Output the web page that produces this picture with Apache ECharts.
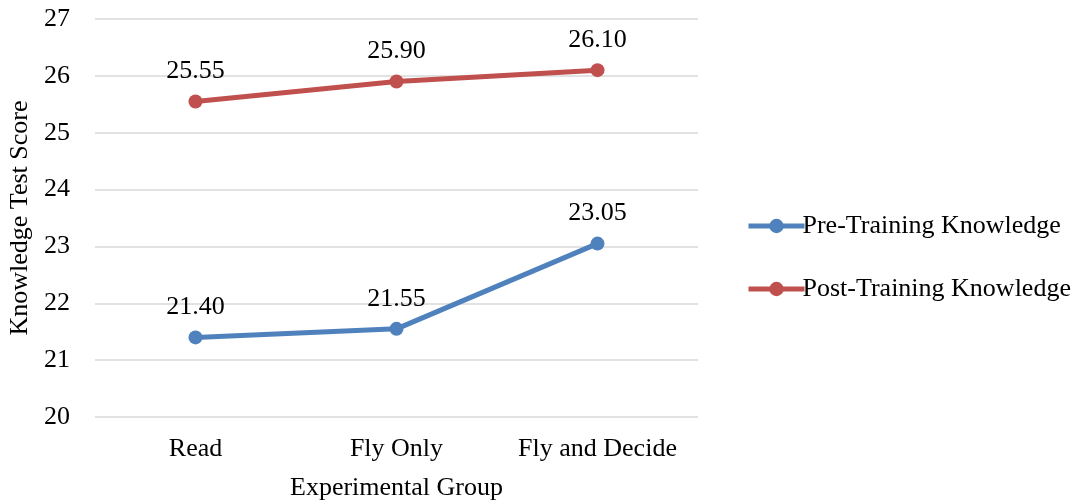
<!DOCTYPE html>
<html>
<head>
<meta charset="utf-8">
<script src="https://cdn.jsdelivr.net/npm/echarts@6/dist/echarts.min.js"></script>
<style>
  html, body { margin: 0; padding: 0; background: #fff; }
  #chart { width: 1078px; height: 500px; }
</style>
</head>
<body>
<div id="chart"></div>
<script>
const categories = ['Read', 'Fly Only', 'Fly and Decide'];
const preTraining = [21.40, 21.55, 23.05];
const postTraining = [25.55, 25.90, 26.10];
const seriesNames = ['Pre-Training Knowledge', 'Post-Training Knowledge'];

const font = 'Liberation Serif, Times New Roman, serif';
const fs = 26;
const chart = echarts.init(document.getElementById('chart'));

function lineSeries(name, data, color) {
  return {
    name: name,
    type: 'line',
    data: data,
    symbol: 'circle',
    symbolSize: 14,
    lineStyle: { color: color, width: 5 },
    itemStyle: { color: color },
    label: {
      show: true,
      position: 'top',
      distance: 10,
      color: '#000',
      fontFamily: font,
      fontSize: fs,
      formatter: p => p.value.toFixed(2)
    },
    emphasis: { disabled: true },
    animation: false
  };
}

chart.setOption({
  backgroundColor: '#fff',
  animation: false,
  grid: { left: 95, right: 380, top: 19, bottom: 83, outerBoundsMode: 'none', containLabel: false },
  legend: {
    orient: 'vertical',
    left: 741,
    top: 208,
    itemWidth: 56,
    itemHeight: 18,
    itemGap: 37,
    lineStyle: { width: 5 },
    textStyle: { fontFamily: font, fontSize: fs, color: '#000', padding: [0, 0, 0, -7] },
    data: seriesNames
  },
  xAxis: {
    type: 'category',
    data: categories,
    boundaryGap: true,
    axisLine: { show: false },
    axisTick: { show: false },
    axisLabel: { color: '#000', fontFamily: font, fontSize: fs, margin: 19, interval: 0, hideOverlap: false },
    name: 'Experimental Group',
    nameLocation: 'middle',
    nameGap: 58,
    nameTextStyle: { color: '#000', fontFamily: font, fontSize: fs }
  },
  yAxis: {
    type: 'value',
    min: 20,
    max: 27,
    interval: 1,
    axisLine: { show: false },
    axisTick: { show: false },
    axisLabel: { color: '#000', fontFamily: font, fontSize: fs, margin: 25 },
    splitLine: { lineStyle: { color: '#d9d9d9', width: 1.5 } },
    name: 'Knowledge Test Score',
    nameLocation: 'middle',
    nameGap: 55,
    nameTextStyle: { color: '#000', fontFamily: font, fontSize: fs }
  },
  series: [
    lineSeries(seriesNames[0], preTraining, '#4F81BD'),
    lineSeries(seriesNames[1], postTraining, '#C0504D')
  ]
});
</script>
</body>
</html>
